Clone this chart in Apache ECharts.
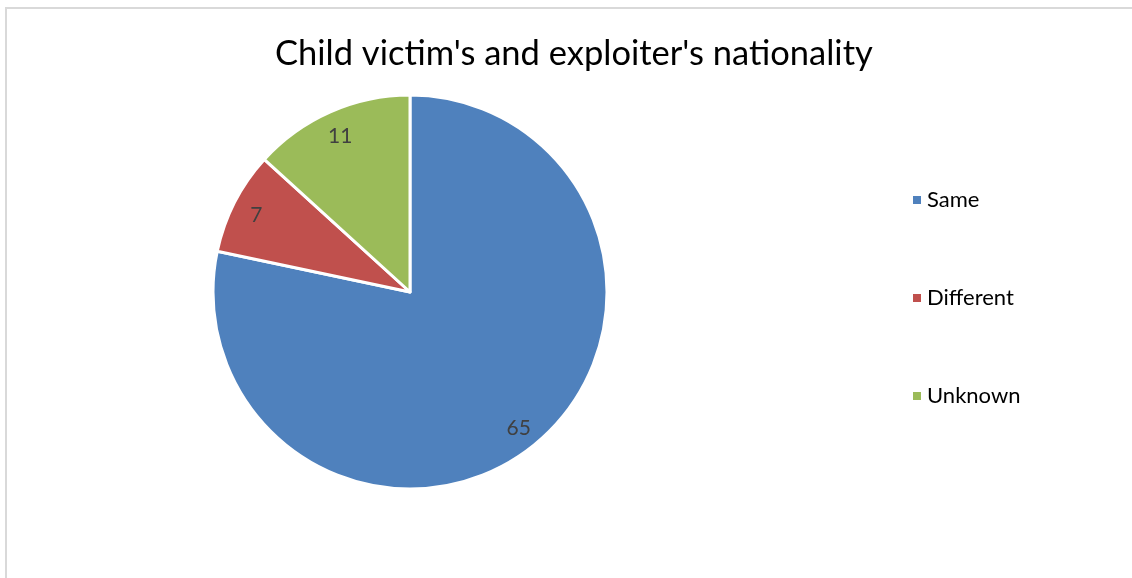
<!DOCTYPE html>
<html>
<head>
<meta charset="utf-8">
<script src="https://cdn.jsdelivr.net/npm/echarts@6/dist/echarts.min.js"></script>
<style>
  html, body { margin: 0; padding: 0; background: #fff; }
  #chart { width: 1132px; height: 578px; }
</style>
</head>
<body>
<div id="chart"></div>
<script>
const titleText = "Child victim's and exploiter's nationality"
const categories = ['Same', 'Different', 'Unknown']
const values = [65, 7, 11]
const colors = ['#4f81bd', '#c0504d', '#9bbb59']

const pieData = categories.map((name, i) => ({
  name: name,
  value: values[i],
  itemStyle: { color: colors[i] },
}))

const font = 'Lato, "Open Sans", sans-serif'
const center = [410, 292]

const chart = echarts.init(document.getElementById('chart'))
chart.setOption({
  animation: false,
  color: colors,
  title: {
    text: titleText,
    left: 270,
    top: 31,
    textStyle: { fontFamily: font, fontSize: 34.5, fontWeight: 'normal', color: '#000' },
  },
  legend: {
    orient: 'vertical',
    left: 906,
    top: 184,
    itemWidth: 10,
    itemHeight: 10,
    itemGap: 76,
    icon: 'rect',
    data: categories,
    textStyle: { fontFamily: font, fontSize: 22, color: '#000' },
  },
  graphic: [
    {
      type: 'rect',
      silent: true,
      shape: { x: 6, y: 8, width: 1300, height: 800 },
      style: { fill: 'none', stroke: '#d9d9d9', lineWidth: 2 },
    },
  ],
  series: [
    {
      // visible slices
      type: 'pie',
      center: center,
      radius: [0, 197],
      startAngle: 90,
      clockwise: true,
      data: pieData,
      label: { show: false },
      labelLine: { show: false },
      itemStyle: { borderColor: '#fff', borderWidth: 3 },
      emphasis: { disabled: true },
    },
    {
      // transparent ring, only used to place the value labels near the rim
      type: 'pie',
      center: center,
      radius: [142, 197],
      startAngle: 90,
      clockwise: true,
      silent: true,
      data: pieData.map(d => ({ name: d.name, value: d.value, itemStyle: { color: 'rgba(0,0,0,0)' } })),
      itemStyle: { borderWidth: 0 },
      label: {
        show: true,
        position: 'inside',
        formatter: '{c}',
        fontFamily: font,
        fontSize: 21,
        color: '#404040',
        offset: [0, 2],
      },
      labelLine: { show: false },
      emphasis: { disabled: true },
    },
  ],
})
</script>
</body>
</html>
